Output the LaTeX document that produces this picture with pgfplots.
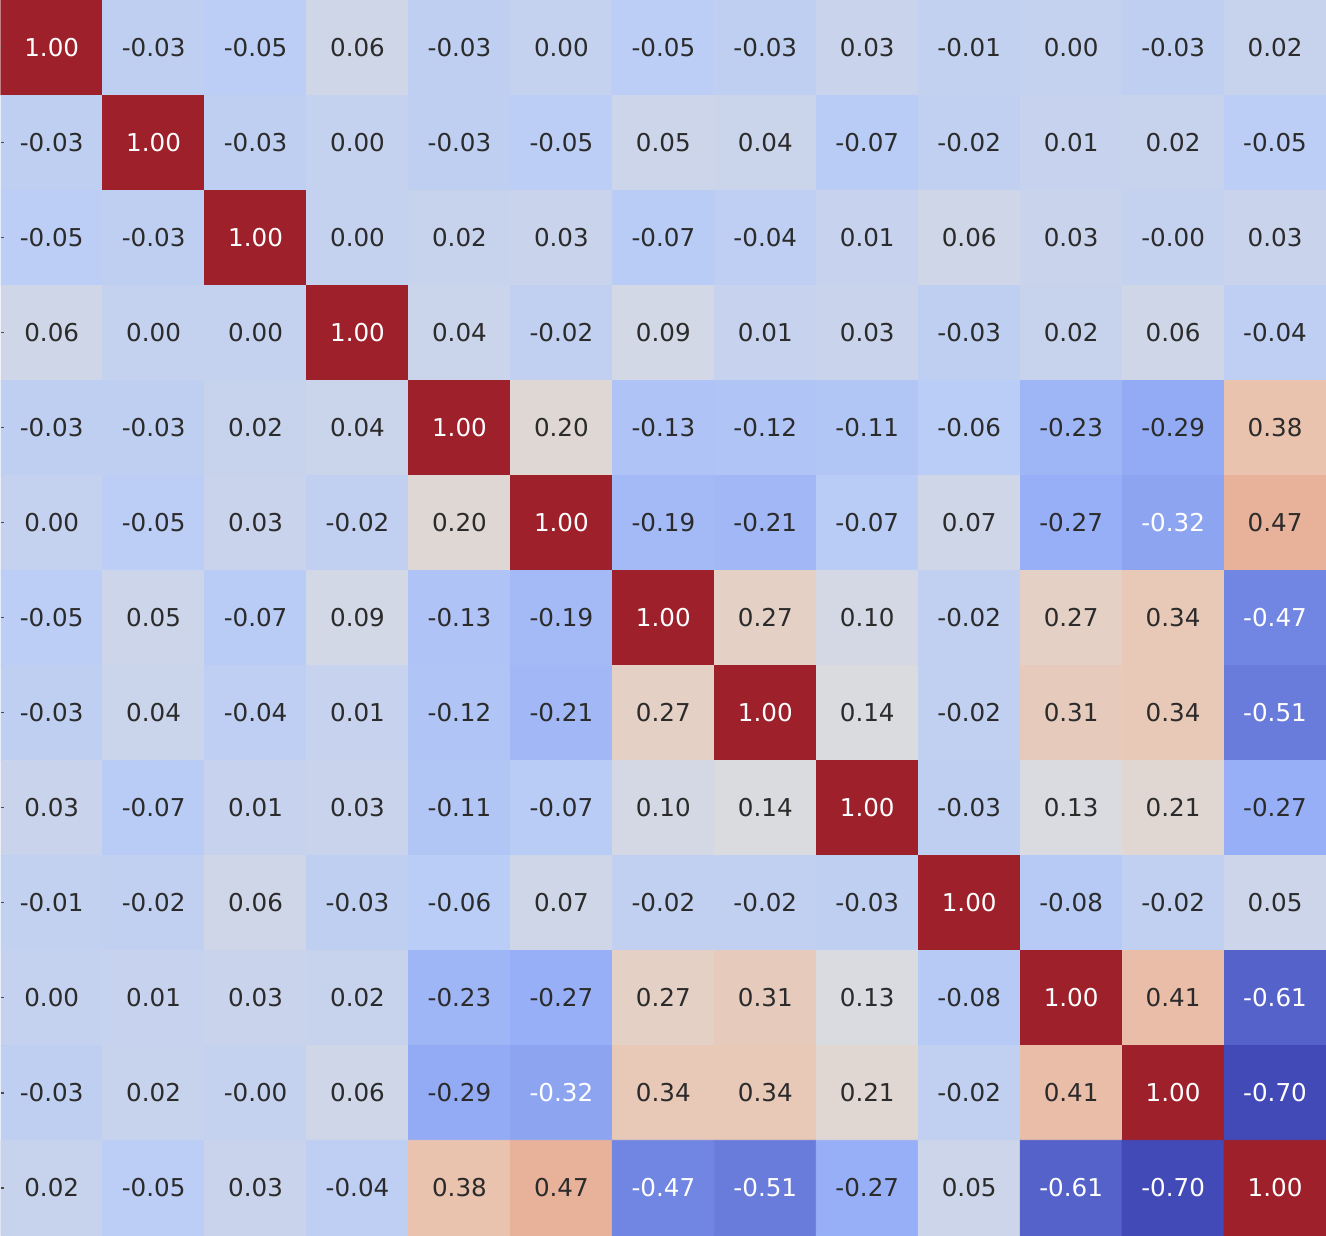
\documentclass[border=0pt]{standalone}
\usepackage{pgfplots}
\pgfplotsset{compat=1.18}
\usepackage{pgfplotstable}
\usepackage{fontspec}
\setmainfont{DejaVu Sans}

\definecolor{txt}{gray}{0.17}

% correlation matrix, row by row (y=0 is the top row)
\pgfplotstableread[row sep=\\]{
x y v\\
0 0 1.00\\ 1 0 -0.03\\ 2 0 -0.05\\ 3 0 0.06\\ 4 0 -0.03\\ 5 0 0.00\\ 6 0 -0.05\\ 7 0 -0.03\\ 8 0 0.03\\ 9 0 -0.01\\ 10 0 0.00\\ 11 0 -0.03\\ 12 0 0.02\\
0 1 -0.03\\ 1 1 1.00\\ 2 1 -0.03\\ 3 1 0.00\\ 4 1 -0.03\\ 5 1 -0.05\\ 6 1 0.05\\ 7 1 0.04\\ 8 1 -0.07\\ 9 1 -0.02\\ 10 1 0.01\\ 11 1 0.02\\ 12 1 -0.05\\
0 2 -0.05\\ 1 2 -0.03\\ 2 2 1.00\\ 3 2 0.00\\ 4 2 0.02\\ 5 2 0.03\\ 6 2 -0.07\\ 7 2 -0.04\\ 8 2 0.01\\ 9 2 0.06\\ 10 2 0.03\\ 11 2 -0.00\\ 12 2 0.03\\
0 3 0.06\\ 1 3 0.00\\ 2 3 0.00\\ 3 3 1.00\\ 4 3 0.04\\ 5 3 -0.02\\ 6 3 0.09\\ 7 3 0.01\\ 8 3 0.03\\ 9 3 -0.03\\ 10 3 0.02\\ 11 3 0.06\\ 12 3 -0.04\\
0 4 -0.03\\ 1 4 -0.03\\ 2 4 0.02\\ 3 4 0.04\\ 4 4 1.00\\ 5 4 0.20\\ 6 4 -0.13\\ 7 4 -0.12\\ 8 4 -0.11\\ 9 4 -0.06\\ 10 4 -0.23\\ 11 4 -0.29\\ 12 4 0.38\\
0 5 0.00\\ 1 5 -0.05\\ 2 5 0.03\\ 3 5 -0.02\\ 4 5 0.20\\ 5 5 1.00\\ 6 5 -0.19\\ 7 5 -0.21\\ 8 5 -0.07\\ 9 5 0.07\\ 10 5 -0.27\\ 11 5 -0.32\\ 12 5 0.47\\
0 6 -0.05\\ 1 6 0.05\\ 2 6 -0.07\\ 3 6 0.09\\ 4 6 -0.13\\ 5 6 -0.19\\ 6 6 1.00\\ 7 6 0.27\\ 8 6 0.10\\ 9 6 -0.02\\ 10 6 0.27\\ 11 6 0.34\\ 12 6 -0.47\\
0 7 -0.03\\ 1 7 0.04\\ 2 7 -0.04\\ 3 7 0.01\\ 4 7 -0.12\\ 5 7 -0.21\\ 6 7 0.27\\ 7 7 1.00\\ 8 7 0.14\\ 9 7 -0.02\\ 10 7 0.31\\ 11 7 0.34\\ 12 7 -0.51\\
0 8 0.03\\ 1 8 -0.07\\ 2 8 0.01\\ 3 8 0.03\\ 4 8 -0.11\\ 5 8 -0.07\\ 6 8 0.10\\ 7 8 0.14\\ 8 8 1.00\\ 9 8 -0.03\\ 10 8 0.13\\ 11 8 0.21\\ 12 8 -0.27\\
0 9 -0.01\\ 1 9 -0.02\\ 2 9 0.06\\ 3 9 -0.03\\ 4 9 -0.06\\ 5 9 0.07\\ 6 9 -0.02\\ 7 9 -0.02\\ 8 9 -0.03\\ 9 9 1.00\\ 10 9 -0.08\\ 11 9 -0.02\\ 12 9 0.05\\
0 10 0.00\\ 1 10 0.01\\ 2 10 0.03\\ 3 10 0.02\\ 4 10 -0.23\\ 5 10 -0.27\\ 6 10 0.27\\ 7 10 0.31\\ 8 10 0.13\\ 9 10 -0.08\\ 10 10 1.00\\ 11 10 0.41\\ 12 10 -0.61\\
0 11 -0.03\\ 1 11 0.02\\ 2 11 -0.00\\ 3 11 0.06\\ 4 11 -0.29\\ 5 11 -0.32\\ 6 11 0.34\\ 7 11 0.34\\ 8 11 0.21\\ 9 11 -0.02\\ 10 11 0.41\\ 11 11 1.00\\ 12 11 -0.70\\
0 12 0.02\\ 1 12 -0.05\\ 2 12 0.03\\ 3 12 -0.04\\ 4 12 0.38\\ 5 12 0.47\\ 6 12 -0.47\\ 7 12 -0.51\\ 8 12 -0.27\\ 9 12 0.05\\ 10 12 -0.61\\ 11 12 -0.70\\ 12 12 1.00\\
}\corr

\begin{document}
\begin{tikzpicture}
\begin{axis}[
    width=663bp, height=618bp,
    scale only axis,
    axis on top,
    xmin=-0.5, xmax=12.5, ymin=-0.5, ymax=12.5,
    y dir=reverse,
    axis line style={draw=none},
    xtick=\empty,
    ytick={0,...,12}, yticklabels={},
    yticklabel style={overlay},
    ytick pos=left, tick align=inside,
    major tick length=1.6bp,
    tick style={color=black!70, line width=0.7bp},
    point meta min=-0.70, point meta max=1.00,
    colormap={cw}{
        rgb255(0)=(66,74,184);
        rgb255(1)=(110,130,224);
        rgb255(2)=(150,174,246);
        rgb255(3)=(186,205,246);
        rgb255(4)=(220,220,222);
        rgb255(5)=(234,198,178);
        rgb255(6)=(228,158,128);
        rgb255(7)=(204,98,80);
        rgb255(8)=(158,32,42)
    },
]
\addplot[matrix plot*, mesh/cols=13, point meta=explicit]
    table[x=x, y=y, meta=v] {\corr};
\addplot[draw=none, mark=none, point meta=explicit symbolic,
    visualization depends on={\thisrow{v} \as \val},
    nodes near coords={\ifdim\val pt<-0.3pt\color{white}\else\ifdim\val pt>0.9pt\color{white}\fi\fi\pgfplotspointmeta},
    every node near coord/.append style={anchor=center, inner sep=0pt,
        text=txt, font=\fontsize{12.3bp}{15bp}\selectfont}]
    table[x=x, y=y, meta=v] {\corr};
\end{axis}
\end{tikzpicture}
\end{document}
